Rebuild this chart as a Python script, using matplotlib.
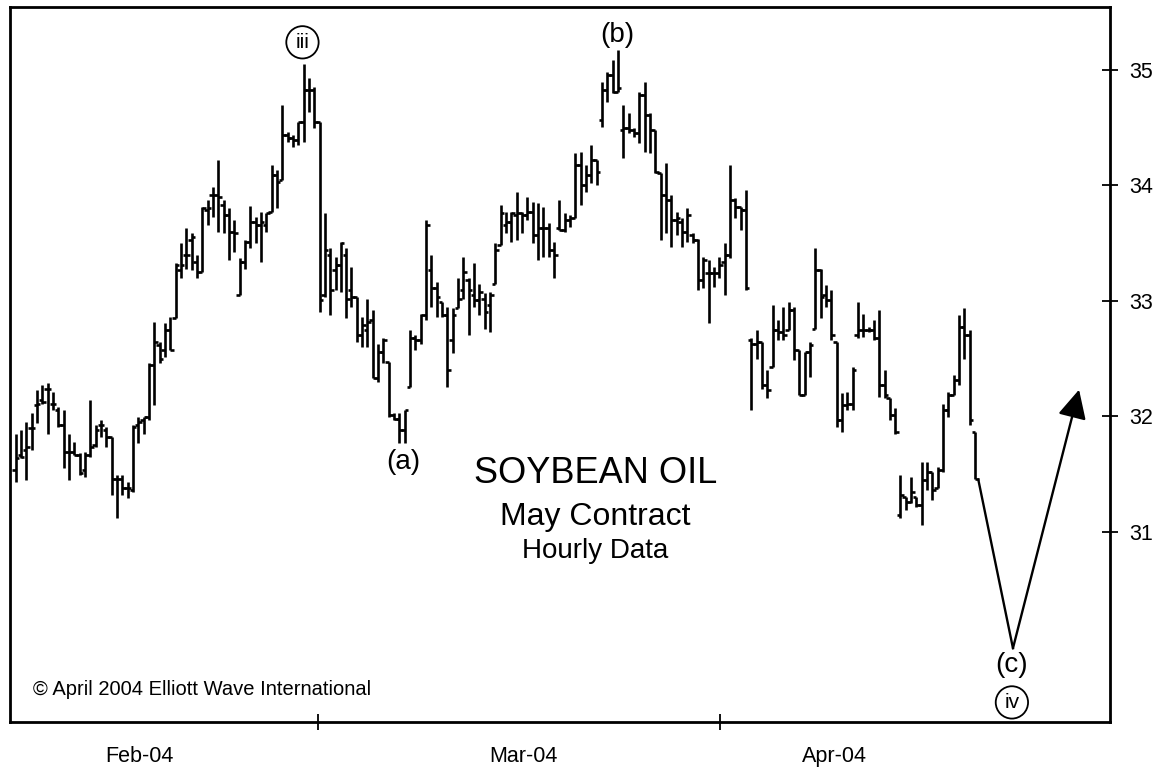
import numpy as np
import matplotlib.pyplot as plt

plt.rcParams['font.family'] = ['Liberation Sans', 'DejaVu Sans']

# Hourly OHLC bars, May soybean oil (cents/lb)
highs = [31.85, 31.88, 31.95, 32.03, 32.23, 32.27, 32.29, 32.21, 32.08, 32.05,
         31.85, 31.78, 31.68, 31.69, 32.14, 31.92, 31.97, 31.91, 31.82, 31.49,
         31.49, 31.43, 31.92, 31.99, 31.99, 32.46, 32.82, 32.64, 32.81, 32.86,
         33.33, 33.50, 33.63, 33.59, 33.40, 33.81, 33.87, 33.99, 34.22, 33.87,
         33.80, 33.70, 33.37, 33.53, 33.82, 33.73, 33.77, 33.76, 34.18, 34.13,
         34.70, 34.46, 34.44, 34.55, 35.05, 34.93, 34.85, 34.55, 33.76, 33.46,
         33.38, 33.51, 33.46, 33.29, 33.03, 32.86, 33.02, 32.92, 32.63, 32.68,
         32.47, 32.03, 32.03, 32.05, 32.75, 32.70, 32.89, 33.70, 33.40, 33.16,
         32.99, 32.95, 32.94, 33.20, 33.38, 33.20, 33.33, 33.15, 33.07, 33.08,
         33.50, 33.83, 33.77, 33.77, 33.94, 33.77, 33.90, 33.86, 33.85, 33.81,
         33.67, 33.51, 33.87, 33.76, 33.74, 34.28, 34.29, 34.18, 34.35, 34.22,
         34.90, 34.98, 35.09, 35.17, 34.70, 34.63, 34.50, 34.81, 34.90, 34.63,
         34.48, 34.11, 34.19, 33.92, 33.77, 33.72, 33.80, 33.59, 33.54, 33.38,
         33.35, 33.29, 33.38, 33.50, 34.18, 33.89, 33.81, 33.96, 32.68, 32.75,
         32.64, 32.40, 32.96, 32.83, 32.95, 32.99, 32.95, 32.57, 32.56, 32.64,
         33.46, 33.28, 33.14, 33.09, 32.64, 32.20, 32.21, 32.43, 32.99, 32.89,
         32.77, 32.83, 32.92, 32.40, 32.16, 32.07, 31.49, 31.30, 31.47, 31.30,
         31.60, 31.60, 31.52, 31.56, 32.11, 32.21, 32.36, 32.88, 32.94, 32.75,
         31.86]
lows = [31.43, 31.64, 31.45, 31.71, 31.94, 32.11, 31.85, 32.05, 31.91, 31.55,
        31.45, 31.66, 31.49, 31.47, 31.65, 31.73, 31.82, 31.73, 31.32, 31.12,
        31.32, 31.29, 31.34, 31.77, 31.85, 31.97, 32.10, 32.46, 32.51, 32.57,
        32.85, 33.20, 33.28, 33.27, 33.20, 33.25, 33.66, 33.73, 33.60, 33.59,
        33.35, 33.42, 33.05, 33.28, 33.46, 33.50, 33.34, 33.60, 33.77, 33.80,
        34.05, 34.38, 34.33, 34.35, 34.38, 34.64, 34.50, 32.90, 33.03, 32.88,
        33.09, 33.08, 32.85, 32.95, 32.64, 32.60, 32.60, 32.33, 32.30, 32.46,
        31.99, 31.97, 31.77, 31.77, 32.25, 32.57, 32.63, 32.83, 32.95, 32.86,
        32.86, 32.25, 32.55, 32.94, 33.02, 32.70, 32.95, 32.88, 32.76, 32.73,
        33.15, 33.48, 33.59, 33.51, 33.53, 33.59, 33.70, 33.50, 33.35, 33.38,
        33.38, 33.20, 33.61, 33.60, 33.64, 33.72, 33.83, 33.94, 34.02, 34.00,
        34.51, 34.72, 34.80, 34.81, 34.24, 34.45, 34.42, 34.37, 34.29, 34.28,
        34.11, 33.53, 33.59, 33.47, 33.57, 33.47, 33.51, 33.50, 33.09, 33.11,
        32.81, 33.12, 33.20, 33.05, 33.37, 33.72, 33.61, 33.09, 32.05, 32.50,
        32.24, 32.16, 32.43, 32.66, 32.66, 32.75, 32.49, 32.18, 32.18, 32.34,
        32.76, 32.85, 32.95, 32.66, 31.91, 31.86, 32.05, 32.05, 32.68, 32.69,
        32.73, 32.66, 32.17, 32.16, 31.97, 31.85, 31.12, 31.19, 31.25, 31.21,
        31.06, 31.36, 31.27, 31.38, 31.52, 31.99, 32.18, 32.27, 32.50, 31.92,
        31.46]
opens = [31.53, 31.66, 31.71, 31.90, 32.10, 32.14, 32.24, 32.11, 32.05, 31.92,
         31.69, 31.69, 31.66, 31.53, 31.66, 31.75, 31.92, 31.88, 31.82, 31.46,
         31.46, 31.38, 31.36, 31.92, 31.97, 31.99, 32.44, 32.62, 32.57, 32.75,
         32.85, 33.27, 33.40, 33.53, 33.34, 33.25, 33.79, 33.92, 33.92, 33.83,
         33.74, 33.60, 33.05, 33.34, 33.51, 33.68, 33.66, 33.66, 33.77, 34.09,
         34.05, 34.44, 34.41, 34.39, 34.55, 34.83, 34.83, 34.55, 33.05, 33.40,
         33.27, 33.31, 33.40, 33.09, 33.03, 32.70, 32.75, 32.83, 32.33, 32.56,
         32.47, 32.01, 31.98, 31.88, 32.25, 32.68, 32.66, 32.88, 33.27, 33.11,
         32.99, 32.88, 32.66, 32.94, 33.09, 33.18, 33.05, 33.01, 33.02, 32.96,
         33.15, 33.48, 33.66, 33.68, 33.74, 33.76, 33.74, 33.77, 33.57, 33.63,
         33.63, 33.44, 33.63, 33.61, 33.70, 33.72, 34.18, 34.00, 34.09, 34.22,
         34.57, 34.83, 34.96, 34.81, 34.48, 34.50, 34.48, 34.45, 34.78, 34.61,
         34.48, 34.11, 33.92, 33.87, 33.70, 33.68, 33.60, 33.57, 33.53, 33.18,
         33.24, 33.24, 33.24, 33.34, 33.40, 33.87, 33.81, 33.79, 32.66, 32.63,
         32.64, 32.27, 32.43, 32.75, 32.73, 32.75, 32.92, 32.57, 32.18, 32.56,
         32.76, 33.27, 33.05, 33.01, 32.64, 31.97, 32.10, 32.11, 32.70, 32.75,
         32.75, 32.75, 32.68, 32.27, 32.16, 32.01, 31.14, 31.30, 31.26, 31.30,
         31.23, 31.45, 31.52, 31.38, 31.53, 32.05, 32.18, 32.31, 32.77, 32.70,
         31.86]
closes = [31.64, 31.65, 31.73, 31.90, 32.11, 32.12, 32.24, 32.11, 31.92, 31.69,
          31.69, 31.66, 31.51, 31.66, 31.73, 31.88, 31.92, 31.82, 31.46, 31.46,
          31.38, 31.38, 31.91, 31.95, 31.99, 32.44, 32.64, 32.50, 32.75, 32.57,
          33.31, 33.31, 33.40, 33.55, 33.25, 33.80, 33.80, 33.92, 33.90, 33.74,
          33.60, 33.59, 33.34, 33.51, 33.68, 33.66, 33.68, 33.76, 34.09, 34.03,
          34.44, 34.41, 34.39, 34.55, 34.83, 34.83, 34.55, 33.01, 33.44, 33.09,
          33.31, 33.50, 33.02, 33.03, 32.70, 32.79, 32.82, 32.33, 32.56, 32.66,
          32.01, 31.98, 31.88, 32.05, 32.68, 32.66, 32.88, 33.66, 33.11, 33.03,
          32.88, 32.40, 32.88, 33.02, 33.25, 33.09, 33.01, 33.08, 32.90, 33.05,
          33.44, 33.76, 33.68, 33.76, 33.76, 33.74, 33.77, 33.57, 33.63, 33.63,
          33.44, 33.40, 33.61, 33.70, 33.72, 34.18, 34.00, 34.09, 34.22, 34.12,
          34.83, 34.96, 34.81, 34.84, 34.50, 34.48, 34.45, 34.78, 34.61, 34.48,
          34.12, 33.92, 33.87, 33.70, 33.72, 33.60, 33.74, 33.53, 33.18, 33.35,
          33.24, 33.24, 33.31, 33.40, 33.87, 33.81, 33.79, 33.11, 32.63, 32.64,
          32.27, 32.23, 32.75, 32.73, 32.70, 32.92, 32.57, 32.18, 32.56, 32.62,
          33.27, 33.03, 33.01, 32.70, 31.97, 32.10, 32.11, 32.40, 32.75, 32.75,
          32.75, 32.68, 32.27, 32.18, 32.01, 31.86, 31.32, 31.26, 31.34, 31.23,
          31.45, 31.52, 31.36, 31.53, 32.05, 32.18, 32.31, 32.77, 32.70, 31.97,
          31.46]

# projected wave (c) low and the turn back up
proj_x = [180.6, 187.1, 199.5]
proj_y = [31.45, 29.99, 32.23]

month_breaks = [56.7, 132.1]
month_centers = [23.3, 95.2, 153.7]
month_labels = ['Feb-04', 'Mar-04', 'Apr-04']
price_ticks = [31, 32, 33, 34, 35]

fig = plt.figure(figsize=(11.63, 7.70), dpi=100)
ax = fig.add_axes([0.0086, 0.0623, 0.9458, 0.9286])

x = np.arange(len(highs))
ax.vlines(x, lows, highs, color='black', lw=1.9)
ax.hlines(opens, x - 0.65, x, color='black', lw=1.9)
ax.hlines(closes, x, x + 0.65, color='black', lw=1.9)

ax.plot(proj_x[:2], proj_y[:2], color='black', lw=1.7)
ax.annotate('', xy=(proj_x[2], proj_y[2]), xytext=(proj_x[1], proj_y[1]),
            arrowprops=dict(arrowstyle='-|>,head_length=0.8,head_width=0.4',
                            mutation_scale=22, lw=1.7, color='black',
                            shrinkA=0, shrinkB=0))

# wave labels
ax.text(112.8, 35.30, '(b)', fontsize=20, ha='center', va='center')
ax.text(72.7, 31.60, '(a)', fontsize=20, ha='center', va='center')
ax.text(186.9, 29.84, '(c)', fontsize=20, ha='center', va='center')
circ = dict(boxstyle='circle,pad=0.32', fc='white', ec='black', lw=1.3)
ax.text(53.8, 35.24, 'iii', fontsize=15, ha='center', va='center', bbox=circ)
ax.text(186.9, 29.52, 'iv', fontsize=15, ha='center', va='center', bbox=circ)

ax.text(0.532, 0.348, 'SOYBEAN OIL', transform=ax.transAxes, fontsize=26,
        ha='center', va='center')
ax.text(0.532, 0.287, 'May Contract', transform=ax.transAxes, fontsize=23,
        ha='center', va='center')
ax.text(0.532, 0.239, 'Hourly Data', transform=ax.transAxes, fontsize=20,
        ha='center', va='center')
ax.text(0.0209, 0.0448, '\u00a9 April 2004 Elliott Wave International',
        transform=ax.transAxes, fontsize=14.5, ha='left', va='center')

ax.set_xlim(-1.07, 205.3)
ax.set_ylim(29.35, 35.546)

ax.yaxis.tick_right()
ax.set_yticks(price_ticks)
ax.tick_params(axis='y', direction='inout', length=11, width=1.3,
               labelsize=15.5, pad=8.5)

ax.set_xticks(month_breaks)
ax.set_xticklabels(['', ''])
ax.tick_params(axis='x', which='major', direction='inout', length=11, width=1.3)
ax.set_xticks(month_centers, minor=True)
ax.set_xticklabels(month_labels, minor=True)
ax.tick_params(axis='x', which='minor', length=0, pad=17, labelsize=15.5)

for s in ax.spines.values():
    s.set_linewidth(2)
    s.set_color('black')

fig.savefig('out.png', dpi=100)
